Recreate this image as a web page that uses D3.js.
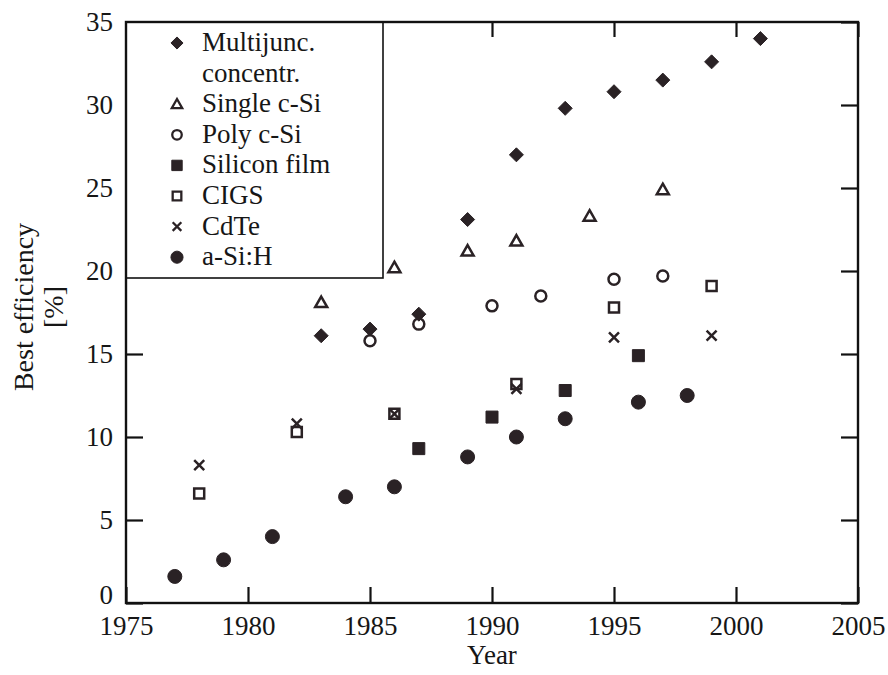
<!DOCTYPE html>
<html>
<head>
<meta charset="utf-8">
<script src="https://cdn.jsdelivr.net/npm/d3@7"></script>
<style>
  body { margin: 0; background: #fff; }
  text { font-family: "Liberation Serif", "DejaVu Serif", serif; fill: #161616; }
</style>
</head>
<body>
<svg id="chart" width="888" height="675"></svg>
<script>
// Best research-cell efficiencies by technology (%)
const multijuncYears = [1983, 1985, 1987, 1989, 1991, 1993, 1995, 1997, 1999, 2001];
const multijuncEff   = [16.1, 16.5, 17.4, 23.1, 27.0, 29.8, 30.8, 31.5, 32.6, 34.0];

const singleSiYears = [1983, 1986, 1989, 1991, 1994, 1997];
const singleSiEff   = [18.1, 20.2, 21.2, 21.8, 23.3, 24.9];

const polySiYears = [1985, 1987, 1990, 1992, 1995, 1997];
const polySiEff   = [15.8, 16.8, 17.9, 18.5, 19.5, 19.7];

const siFilmYears = [1987, 1990, 1993, 1996];
const siFilmEff   = [9.3, 11.2, 12.8, 14.9];

const cigsYears = [1978, 1982, 1986, 1991, 1995, 1999];
const cigsEff   = [6.6, 10.3, 11.4, 13.2, 17.8, 19.1];

const cdteYears = [1978, 1982, 1986, 1991, 1995, 1999];
const cdteEff   = [8.3, 10.8, 11.4, 12.9, 16.0, 16.1];

const aSiYears = [1977, 1979, 1981, 1984, 1986, 1989, 1991, 1993, 1996, 1998];
const aSiEff   = [1.6, 2.6, 4.0, 6.4, 7.0, 8.8, 10.0, 11.1, 12.1, 12.5];

const xTicks = [1975, 1980, 1985, 1990, 1995, 2000, 2005];
const yTicks = [0, 5, 10, 15, 20, 25, 30, 35];

const legendLabels = [
  ["Multijunc.", "concentr."],
  ["Single c-Si"],
  ["Poly c-Si"],
  ["Silicon film"],
  ["CIGS"],
  ["CdTe"],
  ["a-Si:H"]
];

const ink = "#2a2225";

// Marker shapes
const diamond = { draw(c, s) { const r = Math.sqrt(s) / 2; c.moveTo(0, -r); c.lineTo(r, 0); c.lineTo(0, r); c.lineTo(-r, 0); c.closePath(); } };
const triangle = { draw(c, s) { const r = Math.sqrt(s) / 2; c.moveTo(0, -r); c.lineTo(r, r * 0.75); c.lineTo(-r, r * 0.75); c.closePath(); } };
const square = { draw(c, s) { const r = Math.sqrt(s) / 2; c.rect(-r, -r, 2 * r, 2 * r); } };
const circle = { draw(c, s) { const r = Math.sqrt(s) / 2; c.moveTo(r, 0); c.arc(0, 0, r, 0, 2 * Math.PI); } };
const cross = { draw(c, s) { const r = Math.sqrt(s) / 2; c.moveTo(-r, -r); c.lineTo(r, r); c.moveTo(r, -r); c.lineTo(-r, r); } };

const series = [
  { years: multijuncYears, eff: multijuncEff, type: diamond,  size: 14 * 14, filled: true },
  { years: singleSiYears,  eff: singleSiEff,  type: triangle, size: 12 * 12, filled: false },
  { years: polySiYears,    eff: polySiEff,    type: circle,   size: 11 * 11, filled: false },
  { years: siFilmYears,    eff: siFilmEff,    type: square,   size: 12 * 12, filled: true },
  { years: cigsYears,      eff: cigsEff,      type: square,   size: 10 * 10, filled: false },
  { years: cdteYears,      eff: cdteEff,      type: cross,    size: 10 * 10, filled: false },
  { years: aSiYears,       eff: aSiEff,       type: circle,   size: 14 * 14, filled: true }
];

const svg = d3.select("#chart");
const plotLeft = 126, plotRight = 858, plotTop = 22, plotBottom = 603;

const x = d3.scaleLinear().domain([1975, 2005]).range([plotLeft, plotRight]);
const y = d3.scaleLinear().domain([0, 35]).range([plotBottom, plotTop]);

function styleAxis(g) {
  g.select(".domain").remove();
  g.selectAll(".tick line").attr("stroke", "#111").attr("stroke-width", 2.2);
  g.selectAll(".tick text").style("font-size", "27px").attr("fill", "#161616");
}

// Inward ticks on all four sides
svg.append("g").attr("transform", `translate(0,${plotBottom})`)
  .call(d3.axisBottom(x).tickValues(xTicks).tickFormat(d3.format("d")).tickSizeInner(-16).tickSizeOuter(0).tickPadding(13))
  .call(styleAxis);
svg.append("g").attr("transform", `translate(0,${plotTop})`)
  .call(d3.axisTop(x).tickValues(xTicks).tickFormat("").tickSizeInner(-15).tickSizeOuter(0))
  .call(styleAxis);
const yAxisG = svg.append("g").attr("transform", `translate(${plotLeft},0)`)
  .call(d3.axisLeft(y).tickValues(yTicks).tickSizeInner(-17).tickSizeOuter(0).tickPadding(13))
  .call(styleAxis);
// the zero label sits a little above its tick, clear of the year labels
yAxisG.selectAll(".tick text").filter(d => d === 0).attr("dy", "0.0em");
svg.append("g").attr("transform", `translate(${plotRight},0)`)
  .call(d3.axisRight(y).tickValues(yTicks).tickFormat("").tickSizeInner(-17).tickSizeOuter(0))
  .call(styleAxis);

// Data markers
const sym = d3.symbol();
series.forEach(s => {
  svg.append("g").selectAll("path")
    .data(s.years.map((yr, i) => [yr, s.eff[i]]))
    .join("path")
    .attr("transform", d => `translate(${x(d[0])},${y(d[1])})`)
    .attr("d", sym.type(s.type).size(s.size)())
    .attr("fill", s.filled ? ink : "none")
    .attr("stroke", ink)
    .attr("stroke-width", s.filled ? 1 : 2.5)
    .attr("stroke-linejoin", "miter");
});

// Legend box in the upper-left corner
const legend = svg.append("g");
legend.append("rect")
  .attr("x", plotLeft).attr("y", plotTop)
  .attr("width", 257).attr("height", 256)
  .attr("fill", "#fff").attr("stroke", "#111").attr("stroke-width", 1.6);

const rowStep = 30.6, firstBaseline = 51, markerX = 177, textX = 202;
let row = 0;
legendLabels.forEach((lines, i) => {
  const s = series[i];
  const base = firstBaseline + row * rowStep;
  legend.append("path")
    .attr("transform", `translate(${markerX},${base - 8})`)
    .attr("d", sym.type(s.type).size(s.size * 0.75)())
    .attr("fill", s.filled ? ink : "none")
    .attr("stroke", ink)
    .attr("stroke-width", s.filled ? 1 : 2.3);
  lines.forEach((ln, j) => {
    legend.append("text")
      .attr("x", textX)
      .attr("y", firstBaseline + (row + j) * rowStep)
      .style("font-size", "27px")
      .text(ln);
  });
  row += lines.length;
});

// Plot frame
svg.append("rect")
  .attr("x", plotLeft).attr("y", plotTop)
  .attr("width", plotRight - plotLeft).attr("height", plotBottom - plotTop)
  .attr("fill", "none").attr("stroke", "#111").attr("stroke-width", 2.4);

// Axis titles
svg.append("text")
  .attr("x", (plotLeft + plotRight) / 2).attr("y", 664)
  .attr("text-anchor", "middle")
  .style("font-size", "27px")
  .text("Year");

const yTitle = svg.append("text")
  .attr("transform", `translate(0,307) rotate(-90)`)
  .attr("text-anchor", "middle")
  .style("font-size", "28px");
yTitle.append("tspan").attr("x", 0).attr("y", 33).text("Best efficiency");
yTitle.append("tspan").attr("x", 0).attr("y", 63).text("[%]");
</script>
</body>
</html>
